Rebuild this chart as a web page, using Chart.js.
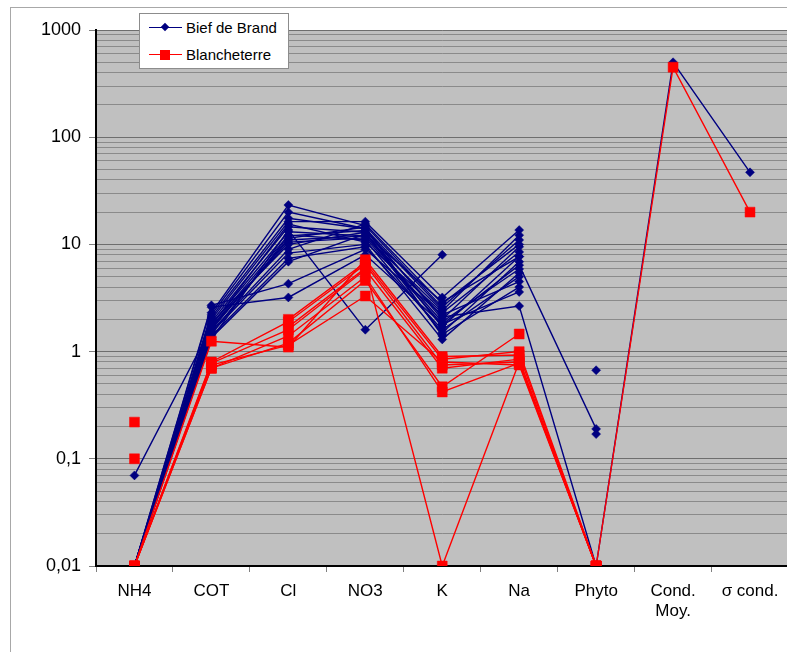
<!DOCTYPE html>
<html><head><meta charset="utf-8">
<script src="https://cdn.jsdelivr.net/npm/chart.js@4/dist/chart.umd.min.js"></script>
<style>
html,body{margin:0;padding:0;background:#fff;overflow:hidden;width:787px;height:652px;}
#wrap{position:relative;width:796px;height:652px;}
#frame{position:absolute;left:10px;top:7px;width:800px;height:700px;border-left:1px solid #a8a8a8;border-top:1px solid #a8a8a8;}
#c{position:absolute;left:0;top:0;}
#legend{position:absolute;left:139px;top:13px;width:148px;height:54px;background:#fff;border:1px solid #8c8c8c;font-family:"Liberation Sans",Arial,sans-serif;font-size:15px;color:#000;}
.row{position:absolute;left:0;height:18px;line-height:18px;}
.ln{position:absolute;left:9px;width:33px;top:8px;height:0;border-top:1.5px solid;}
.mk{position:absolute;}
.tx{position:absolute;left:46px;top:0;white-space:nowrap;}
</style></head>
<body>
<div id="wrap">
<div id="frame"></div>
<canvas id="c" width="796" height="652"></canvas>
<div id="legend">
  <div class="row" style="top:5px;width:148px"><span class="ln" style="border-color:#000080"></span><span class="mk" style="left:22px;top:5px;width:6px;height:6px;background:#000080;transform:rotate(45deg)"></span><span class="tx">Bief de Brand</span></div>
  <div class="row" style="top:32px;width:148px"><span class="ln" style="border-color:#ff0000"></span><span class="mk" style="left:20px;top:4px;width:10px;height:10px;background:#ff0000"></span><span class="tx">Blancheterre</span></div>
</div>
</div>
<script>
// Categories (x axis)
const categories = ['NH4', 'COT', 'Cl', 'NO3', 'K', 'Na', 'Phyto', ['Cond.', 'Moy.'], 'σ cond.'];
// Y axis labelled ticks
const majorTickValues = [0.01, 0.1, 1, 10, 100, 1000];
const majorTickLabels = ['0,01', '0,1', '1', '10', '100', '1000'];
// Series names
const seriesNames = ['Bief de Brand', 'Blancheterre'];
// Bief de Brand samples: NH4, COT, Cl, NO3, K, Na, Phyto, Cond. Moy., σ cond.
const biefDeBrand = [
  [0.01, 2.7, 4.3, 9.0, 2.2, 4.5, null, null, null],
  [0.01, 2.6, 3.2, 8.0, 1.8, 3.6, null, null, null],
  [0.01, 2.3, 23.3, 15.0, 2.6, 11.0, null, null, null],
  [0.01, 2.1, 17.5, 14.0, 2.0, 9.5, null, null, null],
  [0.01, 2.0, 16.3, 16.3, 3.2, 13.6, null, null, null],
  [0.01, 1.9, 14.6, 13.0, 1.7, 7.7, null, null, null],
  [0.01, 1.8, 13.1, 12.0, 2.4, 12.2, null, null, null],
  [0.01, 1.7, 12.2, 11.0, 1.5, 6.9, null, null, null],
  [0.01, 1.6, 11.4, 14.5, 1.4, null, 0.67, null, null],
  [0.01, 1.5, 8.3, 10.0, 1.3, 5.4, null, null, null],
  [0.01, 1.4, 7.4, 9.5, 1.6, 5.0, null, null, null],
  [0.01, 1.35, 6.9, 12.5, 2.9, 7.7, null, null, null],
  [0.07, 1.7, 10.5, 11.5, 1.8, 6.4, 0.19, null, null],
  [0.01, 1.3, 13.6, 1.6, 8.0, null, null, null, null],
  [0.01, 1.45, 12.0, 13.5, 2.1, 2.66, 0.01, 500, 47],
  [0.01, 1.55, 9.0, 15.5, 2.8, 10.0, null, null, null],
  [0.01, 2.2, 20.0, 14.0, 2.5, null, 0.17, null, null],
  [0.01, 1.65, 11.0, 12.0, 1.9, 5.9, null, null, null],
  [0.01, 1.75, 15.5, 10.5, 2.3, 8.5, null, null, null],
  [0.01, 1.85, 10.0, 13.0, 1.45, 4.0, null, null, null]
];
// Blancheterre samples: NH4, COT, Cl, NO3, K, Na, Phyto, Cond. Moy., σ cond.
const blancheterre = [
  [0.01, 1.25, 1.1, 7.2, 0.9, 0.93, 0.01, null, null],
  [0.01, 0.8, 1.9, 6.5, 0.75, 0.8, 0.01, null, null],
  [0.01, 0.78, 1.6, 5.8, 0.7, 0.85, 0.01, null, null],
  [0.01, 0.7, 1.4, 5.0, 0.42, 0.78, 0.01, null, null],
  [0.01, 0.7, 1.2, 4.6, 0.47, 1.46, null, null, null],
  [0.22, null, 1.7, 6.0, 0.01, 0.8, 0.01, null, null],
  [0.1, null, 2.0, 6.8, 0.85, 1.0, 0.01, null, null],
  [0.01, 0.75, 1.15, 3.3, 0.8, 0.75, 0.01, 450, 20]
];

const NAVY = '#000080', RED = '#ff0000';
const datasets = [];
biefDeBrand.forEach(vals => datasets.push({
  label: seriesNames[0], data: vals, borderColor: NAVY, backgroundColor: NAVY,
  borderWidth: 1.4, pointStyle: 'rectRot', pointRadius: 4.5, pointBorderWidth: 0.5,
  pointBackgroundColor: NAVY, pointBorderColor: NAVY, order: 1, spanGaps: false
}));
blancheterre.forEach(vals => datasets.push({
  label: seriesNames[1], data: vals, borderColor: RED, backgroundColor: RED,
  borderWidth: 1.4, pointStyle: 'rect', pointRadius: 7, pointBorderWidth: 0.5,
  pointBackgroundColor: RED, pointBorderColor: RED, order: 0, spanGaps: false
}));

function isMajor(v) {
  const l = Math.log10(v);
  return Math.abs(l - Math.round(l)) < 1e-6;
}

const bgPlugin = {
  id: 'plotBg',
  beforeDraw(chart) {
    const a = chart.chartArea, ctx = chart.ctx;
    ctx.save();
    ctx.fillStyle = '#c0c0c0';
    ctx.fillRect(a.left, a.top, a.right - a.left, a.bottom - a.top);
    ctx.restore();
  }
};

const XFONT = {family: '"Liberation Sans", Arial, sans-serif', size: 17};
const YFONT = {family: '"Liberation Sans", Arial, sans-serif', size: 18};

new Chart(document.getElementById('c'), {
  type: 'line',
  data: {labels: categories, datasets},
  plugins: [bgPlugin],
  options: {
    responsive: false, animation: false,
    layout: {padding: {left: 0, right: 5, top: 30, bottom: 0}},
    plugins: {legend: {display: false}, tooltip: {enabled: false}},
    elements: {line: {tension: 0}},
    scales: {
      x: {
        type: 'category', offset: true,
        grid: {offset: true, drawOnChartArea: false, drawTicks: true, tickLength: 6, tickColor: '#808080'},
        border: {color: '#000', width: 2},
        ticks: {color: '#000', font: XFONT, padding: 9, maxRotation: 0, autoSkip: false},
        afterFit(s) { s.height = 86; }
      },
      y: {
        type: 'logarithmic', min: 0.01, max: 1000,
        afterBuildTicks(s) {
          const t = [];
          for (let e = -2; e <= 3; e++) {
            for (let m = 1; m <= 9; m++) {
              if (e === 3 && m > 1) break;
              t.push({value: Number((m * Math.pow(10, e)).toPrecision(3))});
            }
          }
          s.ticks = t;
        },
        grid: {
          color: c => isMajor(c.tick.value) ? '#6e6e6e' : '#8a8a8a',
          lineWidth: 1,
          tickLength: 7,
          tickColor: c => isMajor(c.tick.value) ? '#808080' : 'rgba(0,0,0,0)'
        },
        border: {color: '#000', width: 2},
        ticks: {
          color: '#000', font: YFONT, padding: 8, autoSkip: false,
          callback(v) {
            const i = majorTickValues.findIndex(m => Math.abs(Math.log10(m) - Math.log10(v)) < 1e-6);
            return i >= 0 ? majorTickLabels[i] : '';
          }
        },
        afterFit(s) { s.width = 96; }
      }
    }
  }
});
</script>
</body></html>
